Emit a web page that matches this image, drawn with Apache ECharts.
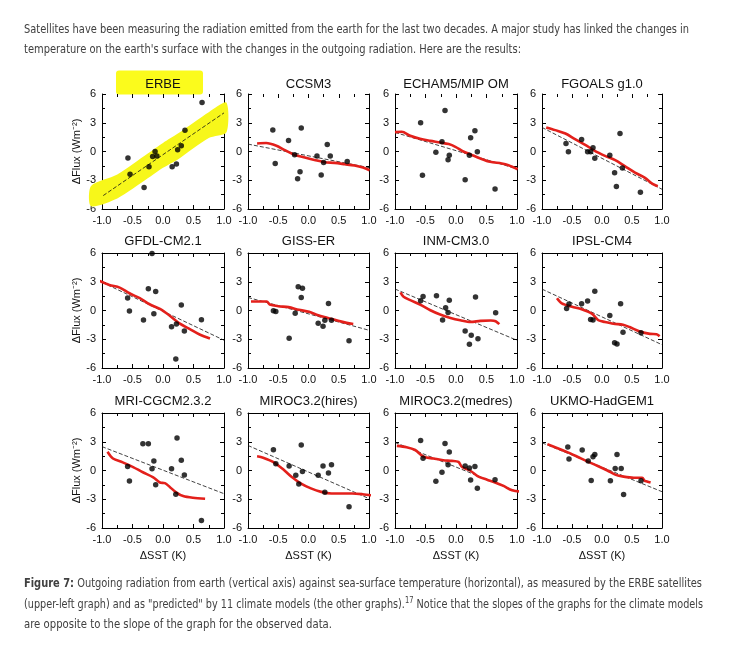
<!DOCTYPE html>
<html><head><meta charset="utf-8">
<script src="https://cdn.jsdelivr.net/npm/echarts@6/dist/echarts.min.js"></script>
<style>
html,body{margin:0;padding:0;background:#fff;width:737px;height:645px;overflow:hidden;}
#chart{position:absolute;left:0;top:0;width:737px;height:645px;}
.ln{position:absolute;left:24px;white-space:nowrap;font-family:'Liberation Sans Narrow','DejaVu Sans Condensed','Liberation Sans',sans-serif;font-size:13px;color:#404040;transform-origin:0 50%;line-height:16px;z-index:2;}
.ln sup{font-size:9px;line-height:0;vertical-align:5px;}
</style></head>
<body>
<div id="chart"></div>
<div class="ln" data-w="665" style="top:21px">Satellites have been measuring the radiation emitted from the earth for the last two decades. A major study has linked the changes in</div>
<div class="ln" data-w="497" style="top:41px">temperature on the earth's surface with the changes in the outgoing radiation. Here are the results:</div>
<div class="ln" data-w="678" style="top:575px"><b>Figure 7:</b> Outgoing radiation from earth (vertical axis) against sea-surface temperature (horizontal), as measured by the ERBE satellites</div>
<div class="ln" data-w="679" style="top:596px">(upper-left graph) and as "predicted" by 11 climate models (the other graphs).<sup>17</sup> Notice that the slopes of the graphs for the climate models</div>
<div class="ln" data-w="308" style="top:616px">are opposite to the slope of the graph for the observed data.</div>
<script>
// ---------- DATA ----------
const panelNames = ['ERBE','CCSM3','ECHAM5/MIP OM','FGOALS g1.0','GFDL-CM2.1','GISS-ER','INM-CM3.0','IPSL-CM4','MRI-CGCM2.3.2','MIROC3.2(hires)','MIROC3.2(medres)','UKMO-HadGEM1'];
const xTicks = [-1.0, -0.5, 0.0, 0.5, 1.0];
const yTicks = [-6, -3, 0, 3, 6];

// ERBE observed
const erbePts = [[-0.575,-0.67],[-0.54,-2.37],[-0.31,-3.75],[-0.23,-1.59],[-0.17,-0.53],[-0.13,0.0],[-0.10,-0.46],[0.15,-1.59],[0.22,-1.31],[0.24,0.18],[0.30,0.6],[0.36,2.23],[0.64,5.12]];
const erbeFit = [[-0.98,-4.6],[1.0,4.03]];
const erbeBandX  = [-1.18,-0.75,-0.25,0.0,0.25,0.75,1.04];
const erbeBandLo = [-5.7,-4.9,-2.8,-1.7,-0.8,1.4,2.0];
const erbeBandHi = [-3.6,-2.4,-0.2,0.9,1.9,4.1,5.1];

const ccsm3Pts = [[-0.59,2.25],[-0.55,-1.26],[-0.33,1.16],[-0.23,-0.35],[-0.12,2.46],[-0.14,-2.1],[-0.18,-2.84],[0.14,-0.46],[0.21,-2.46],[0.25,-1.16],[0.31,0.74],[0.36,-0.46],[0.64,-1.05]];
const ccsm3Fit = [[-1,0.77],[1,-1.68]];
const ccsm3Red = [[-0.85,0.84],[-0.70,0.88],[-0.53,0.6],[-0.39,0.14],[-0.23,-0.35],[-0.06,-0.63],[0.1,-0.88],[0.27,-1.12],[0.43,-1.19],[0.60,-1.33],[0.76,-1.47],[0.9,-1.68],[1.01,-1.96]];

const echamPts = [[-0.58,3.0],[-0.18,4.29],[-0.55,-2.47],[-0.33,-0.07],[-0.23,1.01],[-0.13,-0.87],[-0.11,-0.38],[0.15,-2.96],[0.22,-0.38],[0.24,1.43],[0.31,2.16],[0.35,-0.03],[0.64,-3.9]];
const echamFit = [[-1,1.99],[1,-1.81]];
const echamRed = [[-1,2.02],[-0.89,2.06],[-0.75,1.64],[-0.59,1.32],[-0.42,1.11],[-0.26,0.94],[-0.12,0.77],[-0.01,0.49],[0.12,0.0],[0.23,-0.28],[0.4,-0.73],[0.56,-1.08],[0.75,-1.25],[0.86,-1.43],[1.01,-1.85]];

const fgoalsPts = [[-0.6,0.84],[-0.56,-0.03],[-0.34,1.25],[-0.24,-0.03],[-0.19,-0.03],[-0.15,0.38],[-0.12,-0.7],[0.13,-0.38],[0.21,-2.23],[0.24,-3.66],[0.3,1.88],[0.34,-1.71],[0.64,-4.25]];
const fgoalsFit = [[-1,2.51],[1,-3.94]];
const fgoalsRed = [[-0.93,2.51],[-0.78,2.23],[-0.61,1.88],[-0.45,1.29],[-0.28,0.7],[-0.12,0.07],[0.05,-0.45],[0.22,-0.91],[0.38,-1.53],[0.55,-2.2],[0.71,-2.72],[0.85,-3.41],[0.93,-3.62]];

const gfdlPts = [[-0.18,5.96],[-0.24,2.27],[-0.12,1.99],[-0.58,1.3],[-0.55,-0.05],[-0.32,-1.0],[-0.15,-0.33],[0.14,-1.7],[0.22,-1.42],[0.3,0.58],[0.35,-2.15],[0.21,-5.06],[0.63,-0.96]];
const gfdlFit = [[-1,2.95],[1,-3.1]];
const gfdlRed = [[-1.04,3.09],[-0.88,2.67],[-0.71,2.39],[-0.55,1.8],[-0.38,1.28],[-0.22,0.65],[-0.05,0.16],[0.11,-0.54],[0.27,-1.35],[0.44,-1.94],[0.6,-2.5],[0.77,-2.92]];

const gissPts = [[-0.58,-0.03],[-0.54,-0.1],[-0.32,-2.9],[-0.22,-0.28],[-0.17,2.48],[-0.1,2.31],[-0.12,1.36],[0.16,-1.33],[0.24,-1.64],[0.27,-1.01],[0.33,0.73],[0.38,-1.01],[0.67,-3.15]];
const gissFit = [[-1,1.36],[1,-2.06]];
const gissRed = [[-0.95,0.94],[-0.81,0.94],[-0.69,0.94],[-0.64,0.63],[-0.5,0.45],[-0.33,0.35],[-0.16,0.07],[0.01,-0.14],[0.16,-0.49],[0.32,-0.77],[0.49,-1.08],[0.63,-1.29],[0.74,-1.4]];

const inmPts = [[-0.58,1.01],[-0.54,1.47],[-0.32,1.54],[-0.17,0.28],[-0.13,-0.21],[-0.11,1.08],[-0.22,-0.98],[0.15,-2.13],[0.25,-2.59],[0.22,-3.53],[0.32,1.4],[0.36,-2.94],[0.65,-0.24]];
const inmFit = [[-1,2.24],[1,-3.11]];
const inmRed = [[-0.91,1.89],[-0.86,1.43],[-0.75,1.08],[-0.59,0.63],[-0.42,0.03],[-0.26,-0.42],[-0.09,-0.77],[0.07,-1.01],[0.24,-1.19],[0.4,-1.08],[0.57,-1.05],[0.65,-1.12],[0.71,-1.43]];

const ipslPts = [[-0.59,0.21],[-0.55,0.67],[-0.34,0.71],[-0.24,0.99],[-0.19,-0.95],[-0.15,-0.99],[-0.12,2.01],[0.13,-0.53],[0.21,-3.36],[0.25,-3.5],[0.31,0.71],[0.35,-2.26],[0.65,-2.33]];
const ipslFit = [[-1,2.23],[1,-3.57]];
const ipslRed = [[-0.75,1.27],[-0.67,0.74],[-0.5,0.39],[-0.34,0.14],[-0.17,-0.32],[-0.06,-1.02],[0.05,-1.2],[0.19,-1.38],[0.35,-1.48],[0.46,-1.73],[0.63,-2.19],[0.8,-2.44],[0.91,-2.47],[0.96,-2.69]];

const mriPts = [[-0.33,2.78],[-0.24,2.78],[0.23,3.38],[0.3,1.07],[-0.15,1.0],[-0.18,0.18],[0.14,0.18],[-0.58,0.43],[-0.55,-1.1],[-0.12,-1.49],[0.35,-0.46],[0.21,-2.49],[0.63,-5.23]];
const mriFit = [[-1,2.49],[1,-2.42]];
const mriRed = [[-0.91,1.96],[-0.82,1.25],[-0.66,0.85],[-0.49,0.36],[-0.33,-0.18],[-0.16,-0.71],[-0.05,-1.25],[0.03,-1.32],[0.11,-1.71],[0.22,-2.31],[0.33,-2.67],[0.49,-2.85],[0.69,-2.95]];

const mirocHiPts = [[-0.58,2.16],[-0.54,0.71],[-0.32,0.46],[-0.21,-0.49],[-0.16,-1.41],[-0.12,2.65],[-0.1,-0.11],[0.16,-0.49],[0.24,0.46],[0.27,-2.26],[0.33,-0.25],[0.38,0.6],[0.67,-3.78]];
const mirocHiFit = [[-1,2.61],[1,-2.93]];
const mirocHiRed = [[-0.85,1.48],[-0.75,1.34],[-0.58,0.88],[-0.41,0.07],[-0.27,-0.71],[-0.13,-1.34],[0.04,-1.87],[0.21,-2.23],[0.38,-2.4],[0.55,-2.4],[0.72,-2.4],[0.89,-2.47],[1.03,-2.58],[1.12,-2.69]];

const mirocMedPts = [[-0.58,3.14],[-0.54,1.29],[-0.33,-1.11],[-0.23,-0.18],[-0.18,2.82],[-0.11,1.93],[-0.13,0.61],[0.15,0.46],[0.22,0.25],[0.24,-1.0],[0.31,0.43],[0.35,-1.86],[0.64,-0.96]];
const mirocMedFit = [[-1,2.93],[1,-2.21]];
const mirocMedRed = [[-0.97,2.57],[-0.81,2.43],[-0.67,2.14],[-0.53,1.43],[-0.37,1.25],[-0.21,1.07],[-0.07,1.0],[0.04,0.89],[0.1,0.36],[0.23,0.0],[0.37,-0.64],[0.51,-0.96],[0.64,-1.25],[0.78,-1.61],[0.92,-2.07],[1.05,-2.18],[1.24,-2.18]];

const ukmoPts = [[-0.57,2.46],[-0.55,1.21],[-0.33,2.14],[-0.23,1.0],[-0.18,-1.04],[-0.15,1.43],[-0.12,1.68],[0.14,-1.07],[0.22,0.21],[0.25,1.68],[0.32,0.21],[0.36,-2.5],[0.65,-1.07]];
const ukmoFit = [[-1,2.89],[1,-2.21]];
const ukmoRed = [[-0.91,2.75],[-0.74,2.32],[-0.57,1.89],[-0.41,1.43],[-0.24,0.93],[-0.08,0.5],[0.09,0.0],[0.23,-0.46],[0.36,-0.64],[0.53,-0.75],[0.67,-0.75],[0.71,-1.07],[0.75,-1.14],[0.81,-1.25]];

// ---------- BUILD ----------
const panelPts = [erbePts,ccsm3Pts,echamPts,fgoalsPts,gfdlPts,gissPts,inmPts,ipslPts,mriPts,mirocHiPts,mirocMedPts,ukmoPts];
const panelFit = [erbeFit,ccsm3Fit,echamFit,fgoalsFit,gfdlFit,gissFit,inmFit,ipslFit,mriFit,mirocHiFit,mirocMedFit,ukmoFit];
const panelRed = [null,ccsm3Red,echamRed,fgoalsRed,gfdlRed,gissRed,inmRed,ipslRed,mriRed,mirocHiRed,mirocMedRed,ukmoRed];

const FONT = "'Liberation Sans', Arial, Helvetica, sans-serif";
const colL = [102, 248, 395, 542];
const colW = [122, 121, 122, 120];
const rowT = [94, 253, 413];
const rowH = 115;
const titleY = [84, 241.5, 401.5];

const grids = [], xAxes = [], yAxes = [], series = [], graphics = [];
const blk = '#000';

graphics.push({type:'rect', z:0, shape:{x:116, y:70.5, width:87, height:24, r:3}, style:{fill:'#fbfb1c'}});

for (let i = 0; i < 12; i++) {
  const r = Math.floor(i / 4), c = i % 4;
  grids.push({left: colL[c], top: rowT[r], width: colW[c], height: rowH, containLabel:false});
  const tickBase = {show:true, inside:true, length:4, lineStyle:{color:blk, width:1}};
  const minorBase = {show:true, splitNumber:2, length:3, lineStyle:{color:blk, width:1}};
  xAxes.push({gridIndex:i, type:'value', min:xTicks[0], max:xTicks[xTicks.length-1], interval:0.5, position:'bottom',
    axisLine:{show:true, onZero:false, lineStyle:{color:blk, width:1}}, axisTick:tickBase, minorTick:minorBase,
    splitLine:{show:false}, minorSplitLine:{show:false},
    axisLabel:{show:true, formatter:v => v.toFixed(1), fontSize:11, color:'#111', margin:6, fontFamily:FONT, showMinLabel:true, showMaxLabel:true, hideOverlap:false},
    name: r === 2 ? 'ΔSST (K)' : '', nameLocation:'middle', nameGap:22, nameTextStyle:{fontSize:11, color:'#111', fontFamily:FONT}});
  xAxes.push({gridIndex:i, type:'value', min:xTicks[0], max:xTicks[xTicks.length-1], interval:0.5, position:'top',
    axisLine:{show: r > 0, onZero:false, lineStyle:{color:blk, width:1}}, axisTick:tickBase, minorTick:minorBase,
    splitLine:{show:false}, minorSplitLine:{show:false}, axisLabel:{show:false}});
  yAxes.push({gridIndex:i, type:'value', min:yTicks[0], max:yTicks[yTicks.length-1], interval:3, position:'left',
    axisLine:{show:true, onZero:false, lineStyle:{color:blk, width:1}}, axisTick:tickBase, minorTick:minorBase,
    splitLine:{show:false}, minorSplitLine:{show:false},
    axisLabel:{show:true, formatter:v => String(v), fontSize:11, color:'#111', margin:6, fontFamily:FONT, showMinLabel:true, showMaxLabel:true, hideOverlap:false},
    name: c === 0 ? 'ΔFlux (Wm⁻²)' : '', nameLocation:'middle', nameGap:18, nameRotate:90, nameTextStyle:{fontSize:11, color:'#111', fontFamily:FONT}});
  yAxes.push({gridIndex:i, type:'value', min:yTicks[0], max:yTicks[yTicks.length-1], interval:3, position:'right',
    axisLine:{show:true, onZero:false, lineStyle:{color:blk, width:1}}, axisTick:tickBase, minorTick:minorBase,
    splitLine:{show:false}, minorSplitLine:{show:false}, axisLabel:{show:false}});

  const xi = 2*i, yi = 2*i;
  if (i === 0) {
    series.push({type:'custom', xAxisIndex:xi, yAxisIndex:yi, clip:false, silent:true, z:1,
      data: erbeBandX.map((x,k) => [x, erbeBandLo[k], erbeBandHi[k]]),
      encode:{x:0, y:[1,2]},
      renderItem: function (params, api) {
        if (params.dataIndex !== 0) return null;
        const upper = erbeBandX.map((x,k) => api.coord([x, erbeBandHi[k]]));
        const lower = erbeBandX.map((x,k) => api.coord([x, erbeBandLo[k]])).reverse();
        return {type:'polygon', shape:{points: upper.concat(lower), smooth:0.25}, style:{fill:'#f7f71a'}};
      }});
  }
  series.push({type:'line', xAxisIndex:xi, yAxisIndex:yi, data:panelFit[i], symbol:'none', silent:true, clip:false,
    lineStyle:{color:'#111', width:0.8, type:[4,2]}, z:3});
  if (panelRed[i]) {
    series.push({type:'line', xAxisIndex:xi, yAxisIndex:yi, data:panelRed[i], symbol:'none', silent:true, clip:false, smooth:0.3,
      lineStyle:{color:'#e3201b', width:2.6}, z:4});
  }
  series.push({type:'scatter', xAxisIndex:xi, yAxisIndex:yi, data:panelPts[i], symbol:'circle', symbolSize:5.5, silent:true,
    itemStyle:{color:'#000'}, z:5});

  graphics.push({type:'text', z:10, x: colL[c] + colW[c]/2, y: titleY[r],
    style:{text: panelNames[i], font: "13px " + FONT, fill:'#111', textAlign:'center', textVerticalAlign:'middle'}});
}

const chart = echarts.init(document.getElementById('chart'), null, {renderer:'canvas'});
chart.setOption({animation:false, backgroundColor:'#fff', grid:grids, xAxis:xAxes, yAxis:yAxes, series:series, graphic:graphics});

// fit text lines to measured widths
document.querySelectorAll('.ln').forEach(el => {
  const w = el.getBoundingClientRect().width;
  const target = parseFloat(el.dataset.w);
  if (w > 0) el.style.transform = 'scaleX(' + (target / w) + ')';
});
</script>
</body></html>
